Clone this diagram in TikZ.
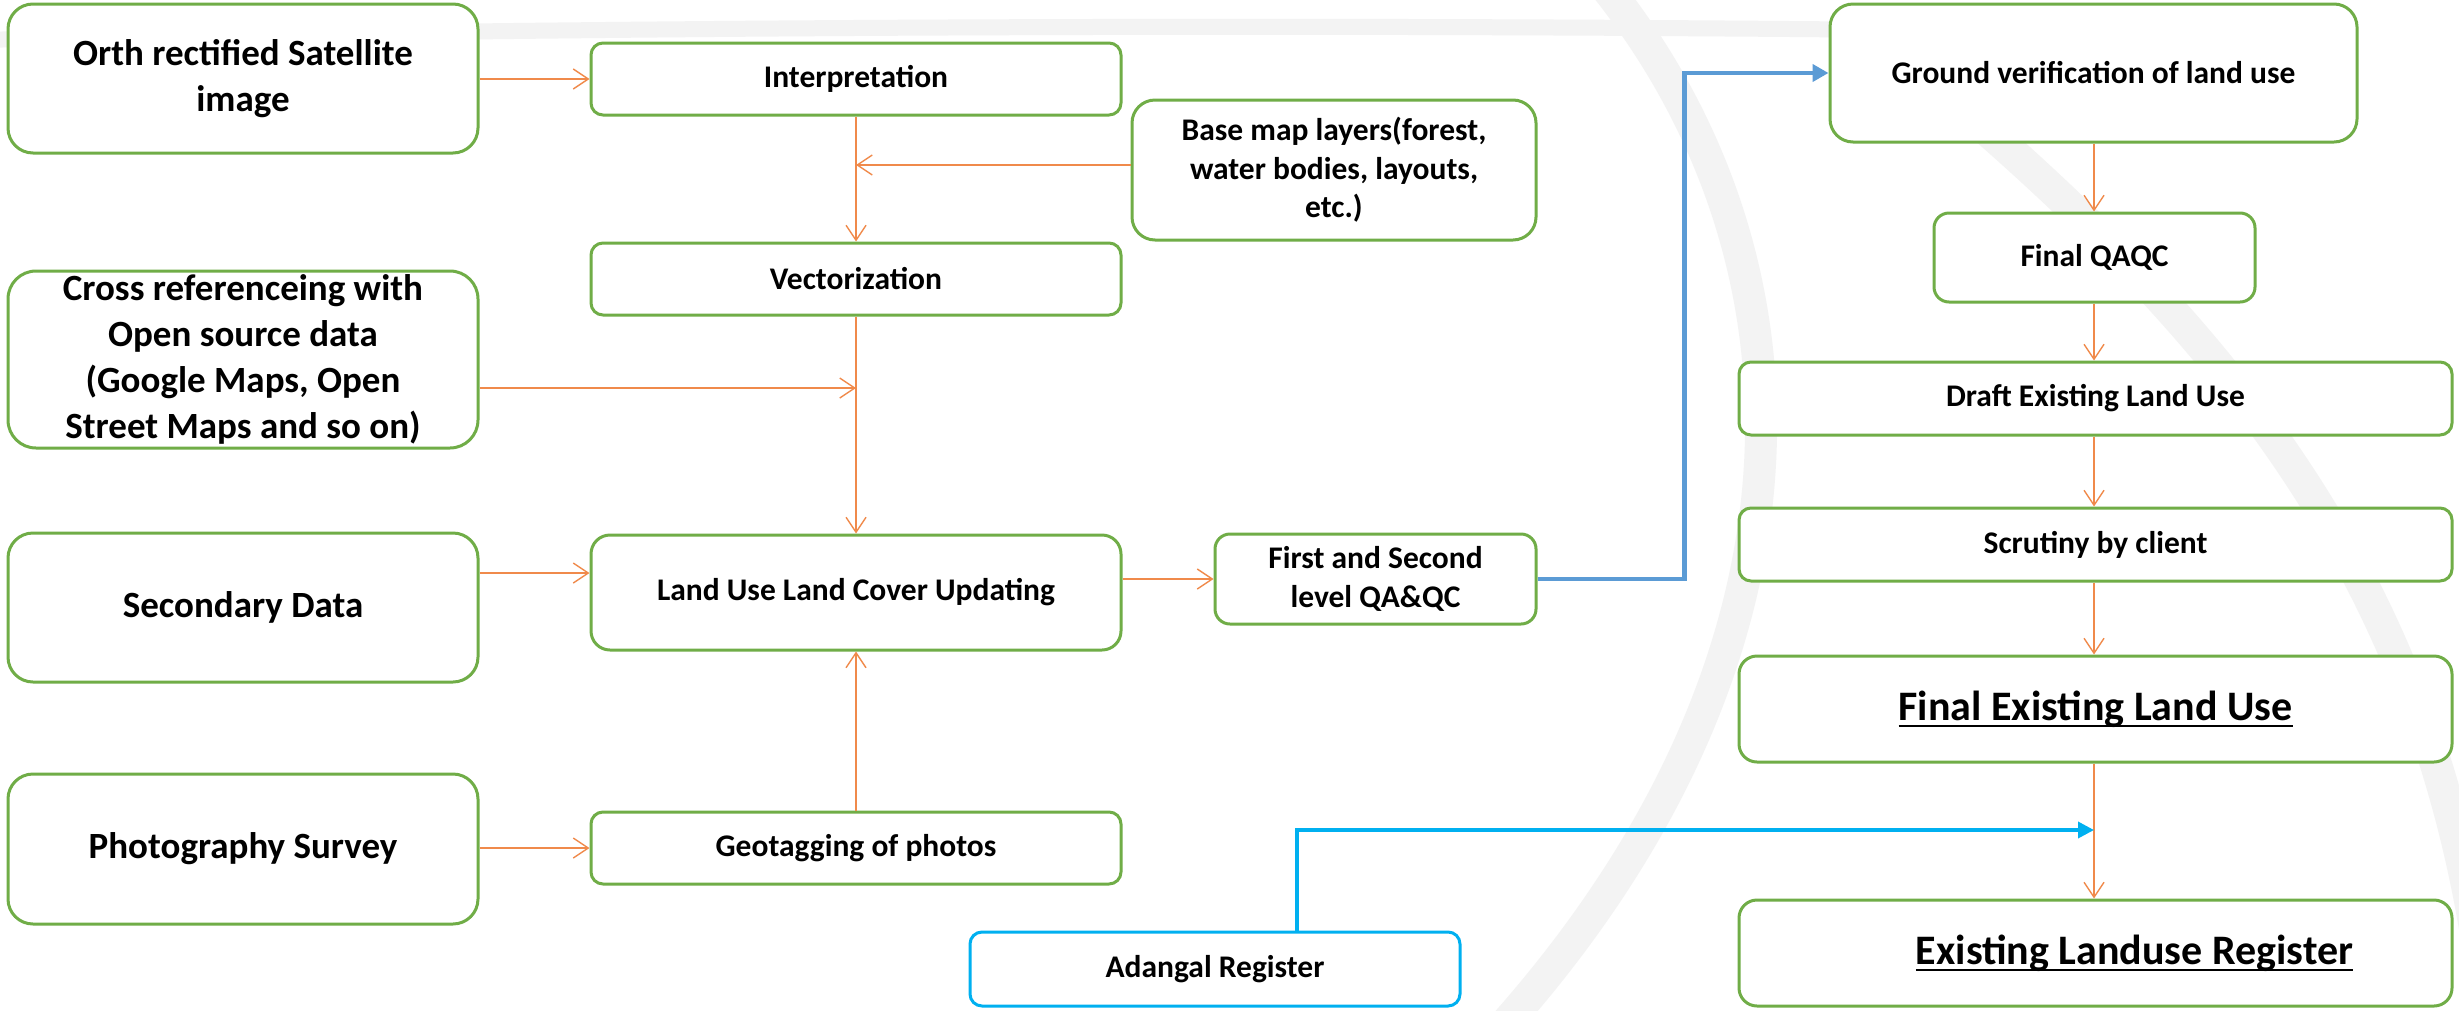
\documentclass[tikz,border=0pt]{standalone}
\usepackage{fontspec}
\setmainfont{Carlito}
\usetikzlibrary{arrows.meta}
\definecolor{gborder}{HTML}{70AD47}
\definecolor{oline}{HTML}{F08A4B}
\definecolor{bline}{HTML}{5B9BD5}
\definecolor{cline}{HTML}{00B0F0}
\definecolor{wmark}{HTML}{F3F3F3}
\newcommand\thickul[1]{\setbox0=\hbox{#1}\rlap{\rule[-7pt]{\wd0}{2.5pt}}\box0}
\begin{document}
\begin{tikzpicture}[x=1pt,y=-1pt,
  box/.style={draw=gborder, line width=3pt, fill=white, rounded corners=#1, align=center, inner sep=0pt, text=black,
    font=\bfseries\fontsize{31.5}{38.5}\selectfont},
  bigtxt/.style={font=\bfseries\fontsize{37}{46}\selectfont},
  hugetxt/.style={font=\bfseries\fontsize{42}{50}\selectfont},
  oarrow/.style={draw=oline, line width=1.3pt, -{Straight Barb[length=15pt,width=20pt,line width=1.4pt]}},
  oarrowh/.style={oarrow, line width=2.2pt},
  barrow/.style={draw=bline, line width=4.5pt, -{Triangle[length=16pt,width=17pt]}},
  carrow/.style={draw=cline, line width=3.5pt, -{Triangle[length=16pt,width=16pt]}},
  wmline/.style={draw=wmark, line cap=round}
]
\useasboundingbox (0,0) rectangle (2459,1010);
\fill[white] (0,0) rectangle (2459,1010);
% faint watermark
\draw[wmline, line width=16pt] (-20,40) .. controls (600,26) and (1300,24) .. (1900,30);
\draw[wmline, line width=32pt] (1600,-20) .. controls (1820,250) and (1840,650) .. (1500,1030);
\draw[wmline, line width=32pt] (1880,40) .. controls (2200,300) and (2420,550) .. (2480,960);

% left column
\node[box=25, bigtxt, minimum width=470pt, minimum height=149pt] (orth) at (243,78.5) {Orth rectified Satellite\\image};
\node[box=28, bigtxt, minimum width=470pt, minimum height=177pt] (cross) at (243,359.5) {Cross referenceing with\\Open source data\\(Google Maps, Open\\Street Maps and so on)};
\node[box=25, bigtxt, minimum width=470pt, minimum height=149pt] (second) at (243,607.5) {Secondary Data};
\node[box=25, bigtxt, minimum width=470pt, minimum height=150pt] (photo) at (243,849) {Photography Survey};

% middle column
\node[box=12, minimum width=530pt, minimum height=72pt] (interp) at (856,79) {Interpretation};
\node[box=12, minimum width=530pt, minimum height=72pt] (vector) at (856,279) {Vectorization};
\node[box=19, minimum width=530pt, minimum height=115pt] (landuse) at (856,592.5) {Land Use Land Cover Updating};
\node[box=12, minimum width=530pt, minimum height=72pt] (geotag) at (856,848) {Geotagging of photos};
\node[box=23, minimum width=404pt, minimum height=140pt] (base) at (1334,170) {Base map layers(forest,\\water bodies, layouts,\\etc.)};
\node[box=15, minimum width=321pt, minimum height=90pt, font=\bfseries\fontsize{31.5}{39}\selectfont] (first) at (1375.5,579) {First and Second\\level QA\&QC};
\node[box=12, draw=cline, minimum width=490pt, minimum height=74pt] (adangal) at (1215,969) {Adangal Register};

% right column
\node[box=23, minimum width=527pt, minimum height=138pt] (ground) at (2093.5,73) {Ground verification of land use};
\node[box=15, minimum width=321pt, minimum height=89pt] (qaqc) at (2094.5,257.5) {Final QAQC};
\node[box=12, minimum width=713pt, minimum height=73pt] (draft) at (2095.5,398.5) {Draft Existing Land Use};
\node[box=12, minimum width=713pt, minimum height=73pt] (scrutiny) at (2095.5,544.5) {Scrutiny by client};
\node[box=18, hugetxt, minimum width=713pt, minimum height=106pt] (finalelu) at (2095.5,709) {\thickul{Final Existing Land Use}};
\node[box=18, hugetxt, minimum width=713pt, minimum height=106pt] (register) at (2095.5,953) {\hspace*{78pt}\thickul{Existing Landuse Register}};

% helper coordinates
\coordinate (crossin) at (856,388);
\coordinate (secin) at (0,573);
\coordinate (join) at (2094,830);

% orange connectors
\draw[oarrowh] (orth.east |- interp.west) -- (interp.west);
\draw[oarrow] (interp.south) -- (vector.north);
\draw[oarrowh] (base.west |- 0,165) -- (interp.south |- 0,165);
\draw[oarrow] (vector.south) -- (landuse.north);
\draw[oarrowh] (cross.east |- crossin) -- (crossin);
\draw[oarrowh] (second.east |- secin) -- (landuse.west |- secin);
\draw[oarrowh] (photo.east |- geotag.west) -- (geotag.west);
\draw[oarrow] (geotag.north) -- (landuse.south);
\draw[oarrowh] (landuse.east |- first.west) -- (first.west);

\draw[oarrow] (ground.south -| join) -- (qaqc.north -| join);
\draw[oarrow] (qaqc.south -| join) -- (draft.north -| join);
\draw[oarrow] (draft.south -| join) -- (scrutiny.north -| join);
\draw[oarrow] (scrutiny.south -| join) -- (finalelu.north -| join);
\draw[oarrow] (finalelu.south -| join) -- (register.north -| join);

% blue connectors
\draw[barrow] (first.east) -- ++(147,0) |- (ground.west);
\draw[carrow] ([xshift=82pt]adangal.north) |- (join);
\end{tikzpicture}
\end{document}
